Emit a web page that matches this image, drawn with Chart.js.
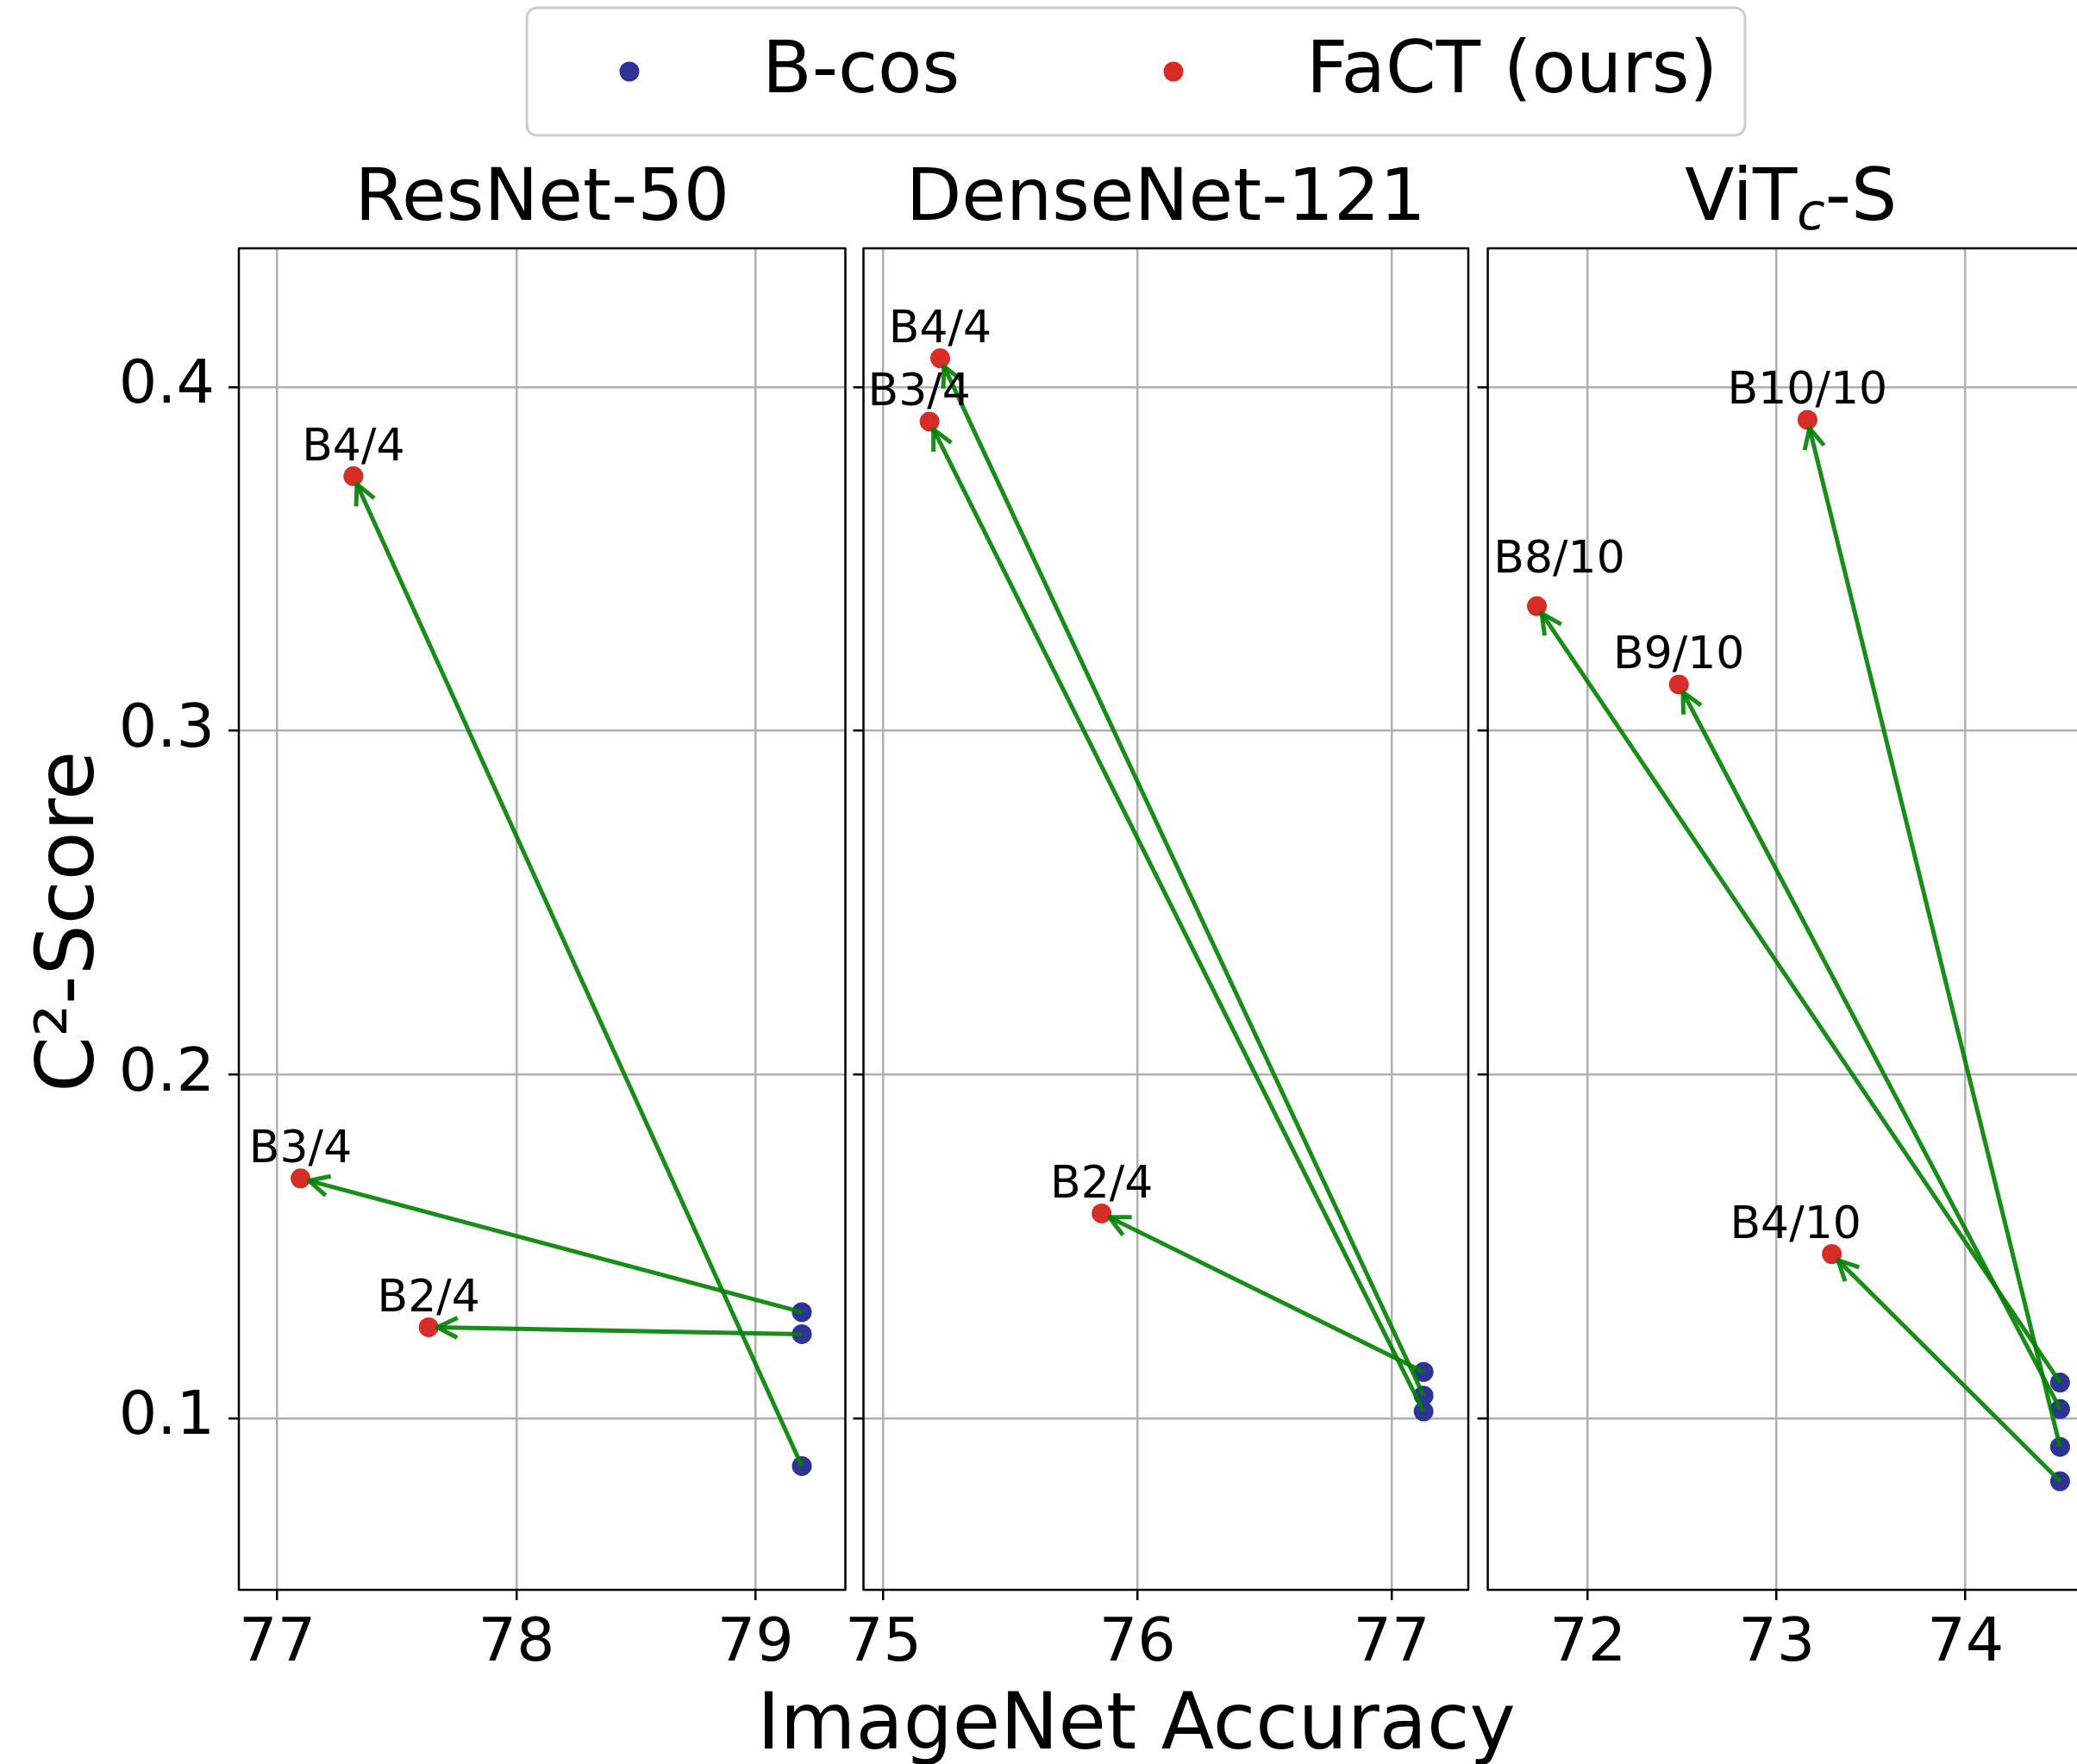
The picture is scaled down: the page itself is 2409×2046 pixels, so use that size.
<!DOCTYPE html>
<html>
<head>
<meta charset="utf-8">
<title>C2-Score vs ImageNet Accuracy</title>
<script src="https://cdn.jsdelivr.net/npm/chart.js@4.4.1/dist/chart.umd.min.js"></script>
<style>
  html, body { margin: 0; padding: 0; background: #fff; width: 2409px; height: 2046px; overflow: hidden; }
  canvas { position: absolute; left: 0; top: 0; }
</style>
</head>
<body>
<canvas id="resnet" width="2500" height="2046"></canvas>
<canvas id="densenet" width="2500" height="2046"></canvas>
<canvas id="vit" width="2500" height="2046"></canvas>
<script>
// ---- data ----
const yTicks = [0.1, 0.2, 0.3, 0.4];

const resnetTicks = [77, 78, 79];
const resnetLabels = ['B4/4', 'B3/4', 'B2/4'];
const resnetBcosAcc = [79.194, 79.194, 79.194];
const resnetBcosScore = [0.0861, 0.1309, 0.1245];
const resnetFactAcc = [77.318, 77.097, 77.633];
const resnetFactScore = [0.3741, 0.1698, 0.1265];

const densenetTicks = [75, 76, 77];
const densenetLabels = ['B4/4', 'B3/4', 'B2/4'];
const densenetBcosAcc = [77.126, 77.126, 77.126];
const densenetBcosScore = [0.1066, 0.1020, 0.1135];
const densenetFactAcc = [75.224, 75.182, 75.859];
const densenetFactScore = [0.4084, 0.3900, 0.1596];

const vitTicks = [72, 73, 74];
const vitLabels = ['B10/10', 'B9/10', 'B8/10', 'B4/10'];
const vitBcosAcc = [74.501, 74.501, 74.501, 74.501];
const vitBcosScore = [0.0917, 0.1027, 0.1104, 0.0817];
const vitFactAcc = [73.163, 72.482, 71.730, 73.292];
const vitFactScore = [0.3905, 0.3135, 0.3363, 0.1478];

// ---- look ----
const FONT = '"DejaVu Sans", "Liberation Sans", sans-serif';
const BCOS_COLOR = 'rgb(46, 52, 148)';
const FACT_COLOR = 'rgb(214, 45, 38)';
const ARROW_COLOR = 'rgba(0, 128, 0, 0.9)';
const GRID_COLOR = '#b0b0b0';

const W = 2500, H = 2046;
const PLOT_TOP = 288, PLOT_BOTTOM = 1844;
const Y_BOX = 220, X_BOX = 150;
const Y_MIN = 0.0501, Y_MAX = 0.4404;

function drawArrow(ctx, x0, y0, x1, y1) {
  const dx = x1 - x0, dy = y1 - y0;
  const len = Math.hypot(dx, dy);
  const ux = dx / len, uy = dy / len;
  // stop the tip at the edge of the target marker
  const tx = x1 - ux * 10, ty = y1 - uy * 10;
  ctx.beginPath();
  ctx.moveTo(x0, y0);
  ctx.lineTo(tx, ty);
  ctx.stroke();
  const head = 26, ang = 0.46;
  const bx = -ux, by = -uy;
  ctx.beginPath();
  ctx.moveTo(tx + head * (bx * Math.cos(ang) - by * Math.sin(ang)),
             ty + head * (bx * Math.sin(ang) + by * Math.cos(ang)));
  ctx.lineTo(tx, ty);
  ctx.lineTo(tx + head * (bx * Math.cos(-ang) - by * Math.sin(-ang)),
             ty + head * (bx * Math.sin(-ang) + by * Math.cos(-ang)));
  ctx.stroke();
}

function drawRuns(ctx, runs, cx, baseline, size) {
  // title made of plain and subscript pieces, centred on cx
  const pieces = runs.map(r => {
    const f = r.sub ? `italic ${Math.round(size * 0.7)}px ${FONT}` : `${size}px ${FONT}`;
    ctx.font = f;
    return { t: r.t, f, w: ctx.measureText(r.t).width, dy: r.sub ? size * 0.13 : 0 };
  });
  let x = cx - pieces.reduce((s, p) => s + p.w, 0) / 2;
  ctx.textAlign = 'left';
  ctx.textBaseline = 'alphabetic';
  pieces.forEach(p => {
    ctx.font = p.f;
    ctx.fillText(p.t, x, baseline + p.dy);
    x += p.w;
  });
}

function drawFigureText(ctx) {
  // legend
  ctx.save();
  ctx.beginPath();
  ctx.roundRect(611, 9, 1413, 148, 12);
  ctx.fillStyle = 'rgba(255,255,255,0.8)';
  ctx.fill();
  ctx.strokeStyle = '#cccccc';
  ctx.lineWidth = 3;
  ctx.stroke();
  [[730, BCOS_COLOR, 'B-cos', 884], [1361, FACT_COLOR, 'FaCT (ours)', 1515]].forEach(([mx, col, txt, tx]) => {
    ctx.beginPath();
    ctx.arc(mx, 83, 11.5, 0, Math.PI * 2);
    ctx.fillStyle = col;
    ctx.fill();
    ctx.fillStyle = '#000';
    ctx.font = `84px ${FONT}`;
    ctx.textAlign = 'left';
    ctx.textBaseline = 'alphabetic';
    ctx.fillText(txt, tx, 107);
  });

  // shared axis titles
  ctx.fillStyle = '#000';
  ctx.font = `90px ${FONT}`;
  ctx.textAlign = 'center';
  ctx.fillText('ImageNet Accuracy', 1318, 2028);
  ctx.translate(108, 1069);
  ctx.rotate(-Math.PI / 2);
  ctx.font = `93px ${FONT}`;
  ctx.fillText('C²-Score', 0, 0);
  ctx.restore();
}

function decorPlugin(p) {
  return {
    id: 'decor',
    afterDatasetsDraw(chart) {
      const { ctx, chartArea: a } = chart;
      const sx = chart.scales.x, sy = chart.scales.y;
      ctx.save();
      ctx.strokeStyle = ARROW_COLOR;
      ctx.lineWidth = 5;
      ctx.lineJoin = 'round';
      p.bcosAcc.forEach((acc, i) => {
        drawArrow(ctx,
          sx.getPixelForValue(acc), sy.getPixelForValue(p.bcosScore[i]),
          sx.getPixelForValue(p.factAcc[i]), sy.getPixelForValue(p.factScore[i]));
      });
      ctx.fillStyle = '#000';
      ctx.font = `52px ${FONT}`;
      ctx.textAlign = 'center';
      ctx.textBaseline = 'alphabetic';
      p.labels.forEach((t, i) => {
        const [nx, ny] = (p.labelNudge && p.labelNudge[i]) || [0, 0];
        ctx.fillText(t, sx.getPixelForValue(p.factAcc[i]) + nx, sy.getPixelForValue(p.factScore[i]) - 18.5 + ny);
      });
      ctx.strokeStyle = '#000';
      ctx.lineWidth = 2.5;
      ctx.strokeRect(a.left, a.top, a.right - a.left, a.bottom - a.top);
      ctx.restore();
    },
    afterDraw(chart) {
      const { ctx, chartArea: a } = chart;
      ctx.save();
      ctx.fillStyle = '#000';
      drawRuns(ctx, p.title, (a.left + a.right) / 2, 255, 84);
      ctx.restore();
      if (p.first) drawFigureText(ctx);
    }
  };
}

function makePanel(p) {
  const toXY = (xs, ys) => xs.map((v, i) => ({ x: v, y: ys[i] }));
  const tickFont = { family: FONT, size: 70 };
  return new Chart(document.getElementById(p.id), {
    type: 'scatter',
    data: {
      datasets: [
        { label: 'B-cos', data: toXY(p.bcosAcc, p.bcosScore), backgroundColor: BCOS_COLOR,
          pointRadius: 11.5, pointHoverRadius: 11.5, borderWidth: 0 },
        { label: 'FaCT (ours)', data: toXY(p.factAcc, p.factScore), backgroundColor: FACT_COLOR,
          pointRadius: 11.5, pointHoverRadius: 11.5, borderWidth: 0 }
      ]
    },
    options: {
      responsive: false,
      animation: false,
      devicePixelRatio: 1,
      events: [],
      layout: {
        padding: { left: p.left - Y_BOX, right: W - p.right, top: PLOT_TOP, bottom: H - PLOT_BOTTOM - X_BOX }
      },
      plugins: { legend: { display: false }, tooltip: { enabled: false } },
      scales: {
        x: {
          type: 'linear', position: 'bottom', min: p.xMin, max: p.xMax,
          afterBuildTicks: s => { s.ticks = p.xTicks.map(v => ({ value: v })); },
          afterFit: s => { s.height = X_BOX; },
          border: { display: false },
          grid: { color: GRID_COLOR, lineWidth: 2.5, tickColor: '#000', tickWidth: 2.5, tickLength: 12 },
          ticks: { font: tickFont, color: '#000', padding: 10, maxRotation: 0, autoSkip: false,
                   callback: v => String(v) }
        },
        y: {
          type: 'linear', position: 'left', min: Y_MIN, max: Y_MAX,
          afterBuildTicks: s => { s.ticks = yTicks.map(v => ({ value: v })); },
          afterFit: s => { s.width = Y_BOX; },
          border: { display: false },
          grid: { color: GRID_COLOR, lineWidth: 2.5, tickColor: '#000', tickWidth: 2.5, tickLength: 12 },
          ticks: { display: p.first, font: tickFont, color: '#000', padding: 16,
                   callback: v => v.toFixed(1) }
        }
      }
    },
    plugins: [decorPlugin(p)]
  });
}

makePanel({
  id: 'resnet', first: true, left: 277, right: 980.5, xMin: 76.839, xMax: 79.376,
  xTicks: resnetTicks, labels: resnetLabels,
  bcosAcc: resnetBcosAcc, bcosScore: resnetBcosScore, factAcc: resnetFactAcc, factScore: resnetFactScore,
  title: [{ t: 'ResNet-50' }]
});
makePanel({
  id: 'densenet', first: false, left: 1001.5, right: 1703, xMin: 74.922, xMax: 77.302,
  xTicks: densenetTicks, labels: densenetLabels,
  bcosAcc: densenetBcosAcc, bcosScore: densenetBcosScore, factAcc: densenetFactAcc, factScore: densenetFactScore,
  labelNudge: [[0, 0], [-12, 0], [0, 0]],
  title: [{ t: 'DenseNet-121' }]
});
makePanel({
  id: 'vit', first: false, left: 1725.6, right: 2428.6, xMin: 71.47, xMax: 74.68,
  xTicks: vitTicks, labels: vitLabels,
  bcosAcc: vitBcosAcc, bcosScore: vitBcosScore, factAcc: vitFactAcc, factScore: vitFactScore,
  labelNudge: [[0, 0], [0, 0], [26, -21], [-42, 0]],
  title: [{ t: 'ViT' }, { t: 'c', sub: true }, { t: '-S' }]
});
</script>
</body>
</html>
